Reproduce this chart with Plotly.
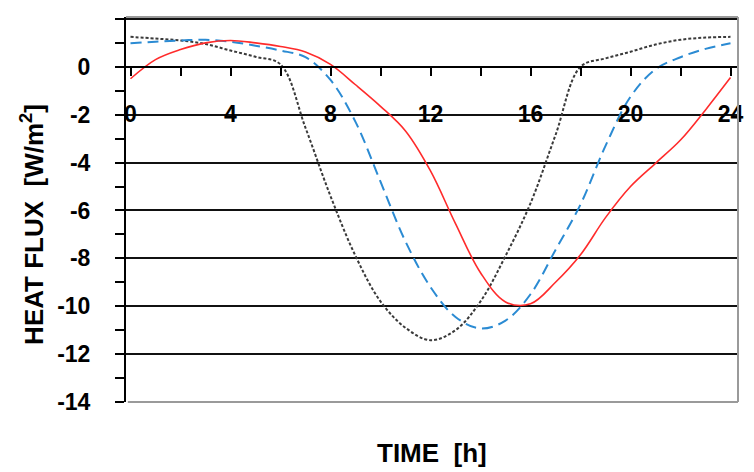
import plotly.graph_objects as go

hours = list(range(25))
red_flux = [-0.5, 0.3, 0.72, 1.0, 1.1, 1.0, 0.85, 0.62, 0.1, -0.75, -1.65, -2.68, -4.35, -6.55,
            -8.6, -9.82, -9.9, -9.0, -7.85, -6.3, -5.0, -4.03, -3.06, -1.8, -0.45]
blue_flux = [0.98, 1.05, 1.1, 1.13, 1.05, 0.88, 0.68, 0.4, -0.55, -2.3, -4.8, -7.3, -9.2, -10.45,
             -10.93, -10.6, -9.5, -7.65, -5.75, -3.3, -1.25, -0.1, 0.4, 0.75, 0.98]
black_flux = [1.25, 1.18, 1.1, 0.95, 0.68, 0.42, 0.1, -2.55, -5.4, -7.9, -9.8, -10.9, -11.42,
              -11.0, -9.8, -7.9, -5.7, -2.85, 0.0, 0.35, 0.63, 0.93, 1.13, 1.22, 1.25]

x_tickvals = list(range(0, 25, 2))
x_ticktext = [str(v) if v % 4 == 0 else "" for v in x_tickvals]
y_tickvals = list(range(-14, 3, 2))
y_ticktext = [str(v) for v in y_tickvals]

FONT = "Liberation Sans, Arial, sans-serif"

fig = go.Figure()
fig.add_trace(go.Scatter(x=hours, y=black_flux, mode="lines",
                         line=dict(color="#3a3a3a", width=2, dash="3px,2px", shape="spline", smoothing=1.0)))
fig.add_trace(go.Scatter(x=hours, y=blue_flux, mode="lines",
                         line=dict(color="#2b8bd3", width=2, dash="11px,6px", shape="spline", smoothing=1.0)))
fig.add_trace(go.Scatter(x=hours, y=red_flux, mode="lines",
                         line=dict(color="#ff2b2b", width=1.6, shape="spline", smoothing=1.0)))

# page body has an 8px margin: the figure spans 8..754 x 8..472 of the window
ymin, ymax = -14, 2.08
fig.update_layout(
    width=746, height=464,
    margin=dict(l=118, r=16, t=9, b=70, autoexpand=False),
    paper_bgcolor="white", plot_bgcolor="white",
    showlegend=False,
    font=dict(family=FONT, color="black"),
    xaxis=dict(
        range=[-0.18, 24.3], automargin=False,
        anchor="free", position=(0 - ymin) / (ymax - ymin),
        showline=True, linecolor="black", linewidth=2,
        showgrid=False, zeroline=False,
        tickmode="array", tickvals=x_tickvals, ticktext=x_ticktext,
        ticks="outside", ticklen=8, tickwidth=2, tickcolor="black",
        ticklabelstandoff=19,
        tickfont=dict(family=FONT, size=23, color="black", weight="bold"),
    ),
    yaxis=dict(
        range=[ymin, ymax], automargin=False,
        showline=True, linecolor="black", linewidth=2,
        showgrid=True, gridcolor="#111111", gridwidth=2,
        zeroline=False,
        tickmode="array", tickvals=y_tickvals, ticktext=y_ticktext,
        ticks="outside", ticklen=9, tickwidth=1.5, tickcolor="black",
        minor=dict(dtick=1, ticks="outside", ticklen=9, tickwidth=1.5, tickcolor="black", showgrid=False),
        ticklabelstandoff=20,
        tickfont=dict(family=FONT, size=23, color="black", weight="bold"),
    ),
)

# gray plot-area frame (top, right, bottom)
frame = dict(type="line", xref="x domain", yref="y domain", line=dict(color="#9a9a9a", width=2), layer="above")
fig.add_shape(**frame, x0=0, x1=1, y0=1, y1=1)
fig.add_shape(**frame, x0=1, x1=1, y0=0, y1=1)
fig.add_shape(**frame, x0=0.003, x1=1, y0=0, y1=0)

fig.add_annotation(text="TIME  [h]", xref="paper", yref="paper", x=0.5, y=0, yshift=-51,
                   showarrow=False, xanchor="center", yanchor="middle",
                   font=dict(family=FONT, size=26, color="black", weight="bold"))
fig.add_annotation(text="HEAT FLUX  [W/m<sup>2</sup>]", xref="paper", yref="paper", x=0, xshift=-93, y=0.46,
                   showarrow=False, textangle=-90, xanchor="center", yanchor="middle",
                   font=dict(family=FONT, size=26, color="black", weight="bold"))

fig.write_html("out.html")
